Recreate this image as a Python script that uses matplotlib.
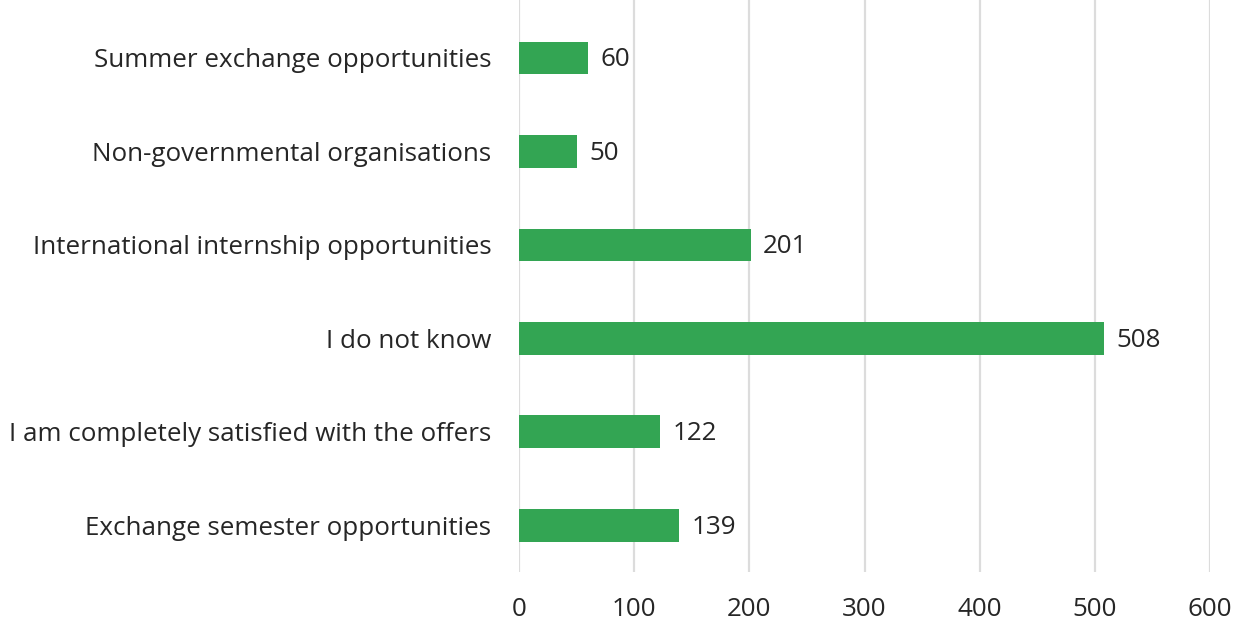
import matplotlib.pyplot as plt

# Categories listed bottom to top
categories = [
    "Exchange semester opportunities",
    "I am completely satisfied with the offers",
    "I do not know",
    "International internship opportunities",
    "Non-governmental organisations",
    "Summer exchange opportunities",
]
counts = [139, 122, 508, 201, 50, 60]
x_ticks = [0, 100, 200, 300, 400, 500, 600]

plt.rcParams['font.family'] = ['Open Sans', 'DejaVu Sans']
fs = 18.7

fig = plt.figure(figsize=(12.45, 6.28), dpi=100)
ax = fig.add_axes([0.4169, 0.0892, 0.555, 0.9108])

ypos = range(len(categories))
ax.barh(ypos, counts, height=0.35, color='#33a553', zorder=3)

for y, v in zip(ypos, counts):
    ax.text(v + 11, y - 0.02, str(v), va='center', ha='left', fontsize=fs, color='#262626')

ax.set_yticks(list(ypos))
ax.set_yticklabels(categories, fontsize=fs, color='#262626')
ax.set_xticks(x_ticks)
ax.set_xticklabels([str(t) for t in x_ticks], fontsize=fs, color='#262626')
ax.set_xlim(0, 600)
ax.set_ylim(-0.5, 5.62)

ax.grid(axis='x', color='#dcdcdc', linewidth=1.6, zorder=0)
ax.tick_params(axis='both', length=0)
ax.tick_params(axis='y', pad=20)
ax.tick_params(axis='x', pad=18)
for s in ax.spines.values():
    s.set_visible(False)

fig.savefig('out.png', dpi=100)
